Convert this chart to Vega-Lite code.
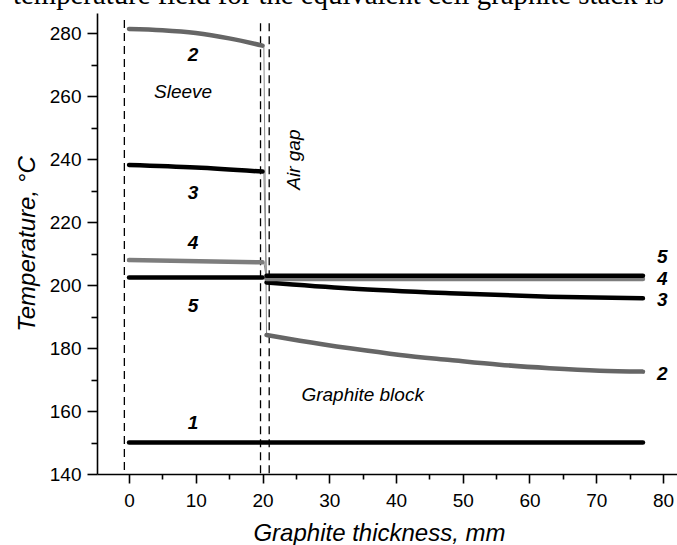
{
  "$schema": "https://vega.github.io/schema/vega-lite/v6.json",
  "width": 580,
  "height": 461,
  "autosize": {"type": "none"},
  "padding": {"left": 97, "top": 13, "right": 0, "bottom": 71},
  "background": "white",
  "title": {
    "text": "temperature field for the equivalent cell graphite stack is",
    "font": "Liberation Serif",
    "fontSize": 28.8,
    "fontWeight": "normal",
    "color": "black",
    "anchor": "start",
    "frame": "group",
    "orient": "top",
    "dx": -84,
    "dy": 20,
    "baseline": "alphabetic",
    "offset": 0
  },
  "config": {
    "view": {"stroke": null},
    "axis": {
      "grid": false,
      "domainColor": "black",
      "domainWidth": 1.6,
      "tickColor": "black",
      "tickWidth": 1.6,
      "labelColor": "black",
      "labelFont": "Liberation Sans",
      "labelFontSize": 19,
      "titleFont": "Liberation Sans",
      "titleFontSize": 24,
      "titleFontWeight": "normal",
      "titleFontStyle": "italic",
      "titleColor": "black"
    }
  },
  "datasets": {
    "curves": [
      {"curve": "1", "part": "all", "x": 0, "t": 150},
      {"curve": "1", "part": "all", "x": 77, "t": 150},
      {"curve": "2", "part": "sleeve", "x": 0, "t": 281.3},
      {"curve": "2", "part": "sleeve", "x": 5, "t": 280.9},
      {"curve": "2", "part": "sleeve", "x": 10, "t": 280.0},
      {"curve": "2", "part": "sleeve", "x": 15, "t": 278.3},
      {"curve": "2", "part": "sleeve", "x": 20, "t": 276.0},
      {"curve": "2", "part": "block", "x": 20.6, "t": 184.1},
      {"curve": "2", "part": "block", "x": 25.6, "t": 182.3},
      {"curve": "2", "part": "block", "x": 33.1, "t": 179.9},
      {"curve": "2", "part": "block", "x": 40.6, "t": 177.8},
      {"curve": "2", "part": "block", "x": 48.1, "t": 176.2},
      {"curve": "2", "part": "block", "x": 55.5, "t": 174.7},
      {"curve": "2", "part": "block", "x": 63, "t": 173.6},
      {"curve": "2", "part": "block", "x": 70.5, "t": 172.8},
      {"curve": "2", "part": "block", "x": 77, "t": 172.5},
      {"curve": "3", "part": "sleeve", "x": 0, "t": 238.1},
      {"curve": "3", "part": "sleeve", "x": 10, "t": 237.3},
      {"curve": "3", "part": "sleeve", "x": 20, "t": 236.0},
      {"curve": "3", "part": "block", "x": 20.6, "t": 200.8},
      {"curve": "3", "part": "block", "x": 33.1, "t": 198.9},
      {"curve": "3", "part": "block", "x": 48.1, "t": 197.4},
      {"curve": "3", "part": "block", "x": 63, "t": 196.3},
      {"curve": "3", "part": "block", "x": 77, "t": 195.8},
      {"curve": "4", "part": "sleeve", "x": 0, "t": 207.9},
      {"curve": "4", "part": "sleeve", "x": 20, "t": 207.2},
      {"curve": "4", "part": "block", "x": 20.6, "t": 201.9},
      {"curve": "4", "part": "block", "x": 77, "t": 201.9},
      {"curve": "5", "part": "sleeve", "x": 0, "t": 202.4},
      {"curve": "5", "part": "sleeve", "x": 20, "t": 202.4},
      {"curve": "5", "part": "block", "x": 20.6, "t": 202.9},
      {"curve": "5", "part": "block", "x": 77, "t": 202.9}
    ],
    "links": [
      {"curve": "2", "x": 20.2, "t": 276.0},
      {"curve": "2", "x": 20.6, "t": 184.1},
      {"curve": "3", "x": 20.2, "t": 236.0},
      {"curve": "3", "x": 20.6, "t": 200.8},
      {"curve": "4", "x": 20.2, "t": 207.2},
      {"curve": "4", "x": 20.6, "t": 201.9}
    ],
    "bounds": [
      {"x": -0.7, "top": 284.1},
      {"x": 19.7, "top": 283.1},
      {"x": 21.0, "top": 283.1}
    ],
    "labels": [
      {"label": "2", "x": 9.6, "t": 273.0},
      {"label": "3", "x": 9.6, "t": 229.2},
      {"label": "4", "x": 9.6, "t": 213.3},
      {"label": "5", "x": 9.6, "t": 193.3},
      {"label": "1", "x": 9.6, "t": 156.2},
      {"label": "5", "x": 79.9, "t": 209.0},
      {"label": "4", "x": 79.9, "t": 201.9},
      {"label": "3", "x": 79.9, "t": 195.2},
      {"label": "2", "x": 79.9, "t": 171.7}
    ],
    "notes": [
      {"label": "Sleeve", "x": 8.1, "t": 261.3},
      {"label": "Graphite block", "x": 35.0, "t": 165.1}
    ],
    "vnotes": [
      {"label": "Air gap", "x": 24.7, "t": 239.8}
    ]
  },
  "encoding": {
    "x": {
      "field": "x",
      "type": "quantitative",
      "scale": {"domain": [-4.8, 82.1], "nice": false, "zero": false},
      "axis": {
        "title": "Graphite thickness, mm",
        "titleX": 282,
        "values": [-5, 0, 5, 10, 15, 20, 25, 30, 35, 40, 45, 50, 55, 60, 65, 70, 75, 80],
        "labelExpr": "datum.value % 10 === 0 ? datum.label : ''",
        "tickSize": {"condition": {"test": "datum.value % 10 === 0", "value": 9}, "value": 5},
        "labelPadding": 8,
        "titlePadding": 11,
        "labelFlush": false,
        "labelOverlap": false
      }
    },
    "y": {
      "field": "t",
      "type": "quantitative",
      "scale": {"domain": [140, 286.35], "nice": false, "zero": false},
      "axis": {
        "title": "Temperature, °C",
        "values": [140, 150, 160, 170, 180, 190, 200, 210, 220, 230, 240, 250, 260, 270, 280],
        "labelExpr": "datum.value % 20 === 0 ? datum.label : ''",
        "tickSize": {"condition": {"test": "datum.value % 20 === 0", "value": 10}, "value": 6},
        "labelPadding": 6,
        "titlePadding": 10,
        "labelFlush": false,
        "labelOverlap": false
      }
    }
  },
  "layer": [
    {
      "data": {"name": "bounds"},
      "mark": {"type": "rule", "color": "black", "strokeWidth": 1.3, "strokeDash": [8, 5]},
      "encoding": {
        "y": {"field": "top", "type": "quantitative"},
        "y2": {"datum": 140}
      }
    },
    {
      "data": {"name": "links"},
      "mark": {"type": "line", "color": "#8a8a8a", "strokeWidth": 1},
      "encoding": {"detail": {"field": "curve"}}
    },
    {
      "data": {"name": "curves"},
      "mark": {"type": "line", "strokeWidth": 4.5, "interpolate": "monotone", "strokeCap": "round"},
      "encoding": {
        "color": {
          "field": "curve",
          "type": "nominal",
          "scale": {"domain": ["1", "2", "3", "4", "5"], "range": ["#000000", "#666666", "#000000", "#7d7d7d", "#000000"]},
          "legend": null
        },
        "detail": {"field": "part"}
      }
    },
    {
      "data": {"name": "labels"},
      "mark": {"type": "text", "font": "Liberation Sans", "fontSize": 19, "fontWeight": "bold", "fontStyle": "italic", "color": "black", "align": "center", "baseline": "middle"},
      "encoding": {"text": {"field": "label"}}
    },
    {
      "data": {"name": "notes"},
      "mark": {"type": "text", "font": "Liberation Sans", "fontSize": 19, "fontStyle": "italic", "color": "black", "align": "center", "baseline": "middle"},
      "encoding": {"text": {"field": "label"}}
    },
    {
      "data": {"name": "vnotes"},
      "mark": {"type": "text", "font": "Liberation Sans", "fontSize": 19, "fontStyle": "italic", "color": "black", "align": "center", "baseline": "middle", "angle": 270},
      "encoding": {"text": {"field": "label"}}
    }
  ]
}
